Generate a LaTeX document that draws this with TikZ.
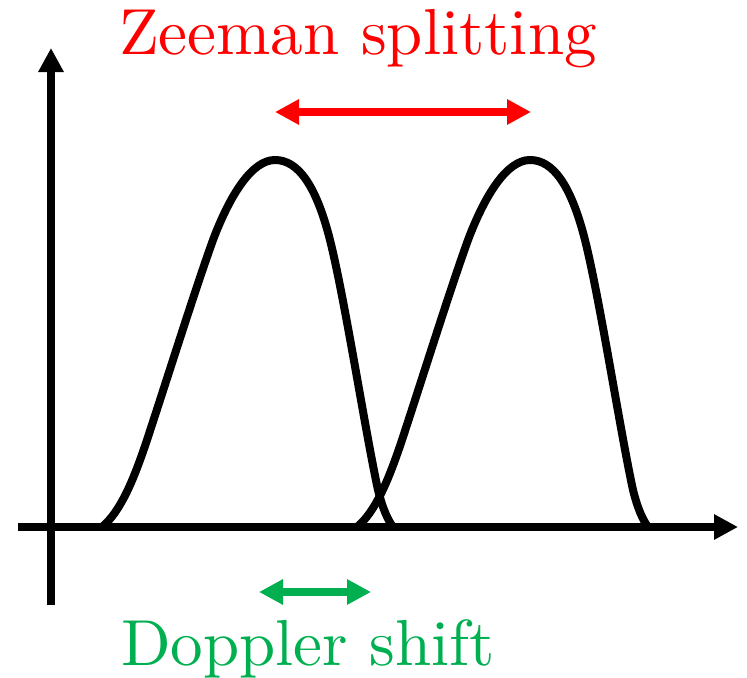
\documentclass[tikz,border=0pt]{standalone}
\usepackage{fontspec}
\setmainfont{lmroman10-regular}[Extension=.otf]
\usetikzlibrary{arrows.meta}
\definecolor{zred}{RGB}{255,0,0}
\definecolor{dgreen}{RGB}{0,176,80}
\begin{document}
\begin{tikzpicture}[x=0.75pt,y=-0.75pt,
  axisline/.style={line width=6pt,-{Triangle[length=18pt,width=18pt]}},
  dblarrow/.style={line width=6pt,{Triangle[length=18pt,width=18pt]}-{Triangle[length=18pt,width=18pt]}},
  peak/.style={line width=6pt,line join=round,line cap=round},
  lbl/.style={font=\fontsize{48.8}{56}\selectfont,inner sep=0pt,anchor=base}]
\useasboundingbox (0,0) rectangle (747,678);
\coordinate (yb) at (51,605);
\coordinate (yt) at (51,48);
\coordinate (xl) at (18,527);
\coordinate (xr) at (738,527);
\draw[axisline] (yb) -- (yt);
\draw[axisline] (xl) -- (xr);
\foreach \s in {0,255}{
\draw[peak,shift={(\s,0)}] (102,527) .. controls (120,512) and (133,482) .. (147,440)
  .. controls (170,370) and (195,290) .. (213,240)
  .. controls (230,195) and (252,160) .. (275,160)
  .. controls (298,160) and (316,185) .. (330,240)
  .. controls (345,300) and (365,430) .. (378,490)
  .. controls (383,510) and (388,520) .. (393,527);
}
\coordinate (za) at (275,112);
\coordinate (zb) at (531,112);
\draw[dblarrow,zred] (za) -- (zb);
\coordinate (da) at (259,592);
\coordinate (db) at (371,592);
\draw[dblarrow,dgreen] (da) -- (db);
\node[lbl,text=zred] (zl) at (358,54) {Zeeman splitting};
\node[lbl,text=dgreen] (dl) at (308,665) {Doppler shift};
\end{tikzpicture}
\end{document}
